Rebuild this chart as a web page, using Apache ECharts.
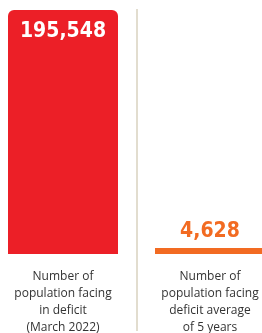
<!DOCTYPE html>
<html>
<head>
<meta charset="utf-8">
<script src="https://cdn.jsdelivr.net/npm/echarts@6/dist/echarts.min.js"></script>
<style>
  html, body { margin: 0; padding: 0; background: #fff; }
  #chart { width: 262px; height: 333px; }
</style>
</head>
<body>
<div id="chart"></div>
<script>
// data
var categories = [
  "Number of\npopulation facing\nin deficit\n(March 2022)",
  "Number of\npopulation facing\ndeficit average\nof 5 years"
];
var values = [195548, 4628];
var barColors = ["#ec1f27", "#f26b22"];
var labelColors = ["#ffffff", "#f26b22"];

var chart = echarts.init(document.getElementById("chart"));

var numFont = "'Liberation Sans Narrow', 'DejaVu Sans Condensed', 'Roboto', sans-serif";

chart.setOption({
  animation: false,
  grid: { left: -10.5, right: -21.5, top: 10, bottom: 79, outerBoundsMode: "none", containLabel: false },
  xAxis: {
    type: "category",
    data: categories,
    axisLine: { show: false },
    axisTick: { show: false },
    axisLabel: {
      interval: 0,
      margin: 14,
      color: "#333",
      fontFamily: "'Open Sans', sans-serif",
      fontSize: 12,
      lineHeight: 17
    }
  },
  yAxis: {
    type: "value",
    min: 0,
    max: values[0],
    show: false,
    splitLine: { show: false }
  },
  graphic: [{
    type: "rect",
    shape: { x: 136, y: 9, width: 2, height: 322 },
    style: { fill: "#e2ddcf" },
    z: 0
  }],
  series: [{
    type: "bar",
    barWidth: 110,
    barMinHeight: 6,
    data: values.map(function (v, i) {
      return {
        value: v,
        itemStyle: {
          color: barColors[i],
          borderRadius: i === 0 ? [6, 6, 0, 0] : 0
        },
        label: {
          show: true,
          position: i === 0 ? "insideTop" : "top",
          distance: i === 0 ? 11 : 6,
          color: labelColors[i],
          fontFamily: numFont,
          fontWeight: "bold",
          fontSize: 21,
          formatter: function (p) {
            return p.value.toLocaleString("en-US");
          }
        }
      };
    })
  }]
});
</script>
</body>
</html>
